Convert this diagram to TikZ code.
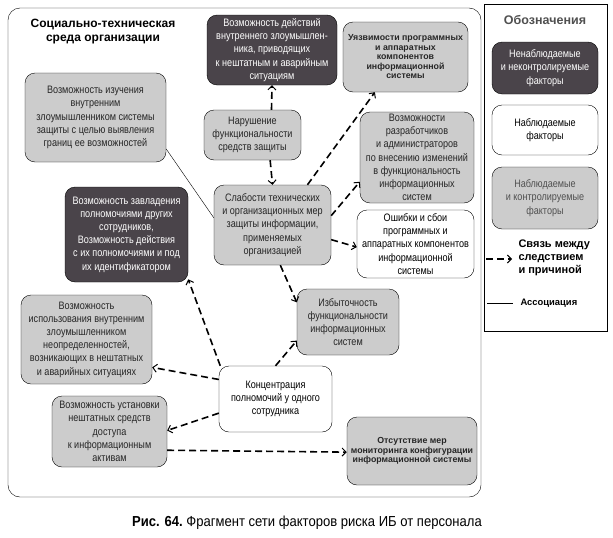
\documentclass[tikz,border=0pt]{standalone}
\usepackage{fontspec}
\setmainfont{Liberation Sans}[FakeStretch=0.84]
\newfontfamily\widesans{Liberation Sans}
\newfontfamily\capsans{Liberation Sans}[FakeStretch=0.9]
\usetikzlibrary{arrows.meta}
\definecolor{darkfactor}{RGB}{74,68,74}
\definecolor{greyfactor}{RGB}{204,204,204}
\definecolor{legendgrey}{RGB}{80,80,80}

\begin{document}
\begin{tikzpicture}[x=1pt, y=-1pt,
  factor/.style={draw, rounded corners=10pt, align=center, inner sep=1.5pt,
    font=\fontsize{10.8}{13.2}\selectfont},
  hidden/.style={factor, fill=darkfactor, text=white},
  seen/.style={factor, fill=white},
  ctrl/.style={factor, fill=greyfactor, text=black!85},
  boldsmall/.style={font=\widesans\bfseries\fontsize{8.8}{9.5}\selectfont},
  cause/.style={-{Straight Barb[length=4pt,width=8pt,line width=1pt]}, line width=1.6pt,
    dash pattern=on 7pt off 4pt},
  assoc/.style={thin}]
  \useasboundingbox (0,0) rectangle (613,538);

  % frames
  \draw[rounded corners=12pt] (8,8) rectangle (481,497);
  \draw (484,4) rectangle (607,331);

  \node[font=\widesans\bfseries\fontsize{12}{14}\selectfont, align=center] (env) at (103,32)
    {Социально-техническая\\среда организации};

  % factors
  \node[ctrl, minimum width=141pt, minimum height=89pt] (study) at (95.5,117.5)
    {Возможность изучения\\внутренним\\злоумышленником системы\\защиты с целью выявления\\границ ее возможностей};
  \node[hidden, minimum width=130pt, minimum height=70pt] (crash) at (272,50)
    {Возможность действий\\внутреннего злоумышлен-\\ника, приводящих\\к нештатным и аварийным\\ситуациям};
  \node[ctrl, boldsmall, minimum width=125pt, minimum height=70pt] (vuln) at (405.5,57)
    {Уязвимости программных\\и аппаратных\\компонентов\\информационной\\системы};
  \node[ctrl, minimum width=97pt, minimum height=50pt] (breach) at (252.5,135)
    {Нарушение\\функциональности\\средств защиты};
  \node[ctrl, minimum width=114pt, minimum height=91pt] (devs) at (417,157.5)
    {Возможности\\разработчиков\\и администраторов\\по внесению изменений\\в функциональность\\информационных\\систем};
  \node[ctrl, minimum width=117pt, minimum height=80pt] (weak) at (272.5,225)
    {Слабости технических\\и организационных мер\\защиты информации,\\применяемых\\организацией};
  \node[seen, minimum width=117pt, minimum height=68pt] (fail) at (415.5,244)
    {Ошибки и сбои\\программных и\\аппаратных компонентов\\информационной\\системы};
  \node[hidden, minimum width=123pt, minimum height=95pt] (takeover) at (126.5,234.5)
    {Возможность завладения\\полномочиями других\\сотрудников,\\Возможность действия\\с их полномочиями и под\\их идентификатором};
  \node[ctrl, minimum width=131pt, minimum height=89pt] (chaos) at (86.5,339.5)
    {Возможность\\использования внутренним\\злоумышленником\\неопределенностей,\\возникающих в нештатных\\и аварийных ситуациях};
  \node[ctrl, minimum width=102pt, minimum height=66pt] (excess) at (348,322)
    {Избыточность\\функциональности\\информационных\\систем};
  \node[seen, minimum width=113pt, minimum height=66pt] (concentr) at (275.5,399)
    {Концентрация\\полномочий у одного\\сотрудника};
  \node[ctrl, minimum width=115pt, minimum height=71pt] (install) at (109.5,431.5)
    {Возможность установки\\нештатных средств\\доступа\\к информационным\\активам};
  \node[ctrl, boldsmall, minimum width=130pt, minimum height=68pt] (monitor) at (412,451)
    {Отсутствие мер\\мониторинга конфигурации\\информационной системы};

  \path[cause]
  (breach.53) edge (crash.south)
  (breach.-55) edge (weak.north)
  (weak.49) edge (vuln.-131)
  (weak.9) edge (devs.-157)
  (weak.-14) edge (fail.-177)
  (weak.-79) edge (excess.159)
  (concentr.north) edge (excess.-160)
  (concentr.149) edge (takeover.-36)
  (concentr.161) edge (chaos.-23)
  (concentr.-166) edge (install.1.5)
  (install.-18) edge (monitor.181)
  ;
  \draw[assoc] (study.-24) -- (weak.173);

  % legend
  \node[font=\widesans\bfseries\fontsize{12.5}{14}\selectfont, text=legendgrey] (legtitle) at (545,20) {Обозначения};
  \node[hidden, minimum width=106pt, minimum height=52pt] (leghidden) at (545,68)
    {Ненаблюдаемые\\и неконтролируемые\\факторы};
  \node[seen, minimum width=106pt, minimum height=50pt] (legseen) at (545,130)
    {Наблюдаемые\\факторы};
  \node[ctrl, minimum width=106pt, minimum height=62pt, text=legendgrey] (legctrl) at (545,198)
    {Наблюдаемые\\и контролируемые\\факторы};
  \coordinate (causeA) at (486,259);
  \coordinate (causeB) at (512,259);
  \draw[cause] (causeA) -- (causeB);
  \node[anchor=west, align=left, font=\widesans\bfseries\fontsize{11}{12.8}\selectfont] (legcause) at (515,258)
    {Связь между\\следствием\\и причиной};
  \coordinate (assocA) at (487,303);
  \coordinate (assocB) at (513,303);
  \draw[assoc] (assocA) -- (assocB);
  \node[anchor=west, font=\widesans\bfseries\fontsize{9.4}{10.8}\selectfont] (legassoc) at (517,303) {Ассоциация};

  \node[font=\capsans\fontsize{14.5}{16}\selectfont] (caption) at (307,523)
    {\textbf{Рис. 64.}\ Фрагмент сети факторов риска ИБ от персонала};
\end{tikzpicture}
\end{document}
